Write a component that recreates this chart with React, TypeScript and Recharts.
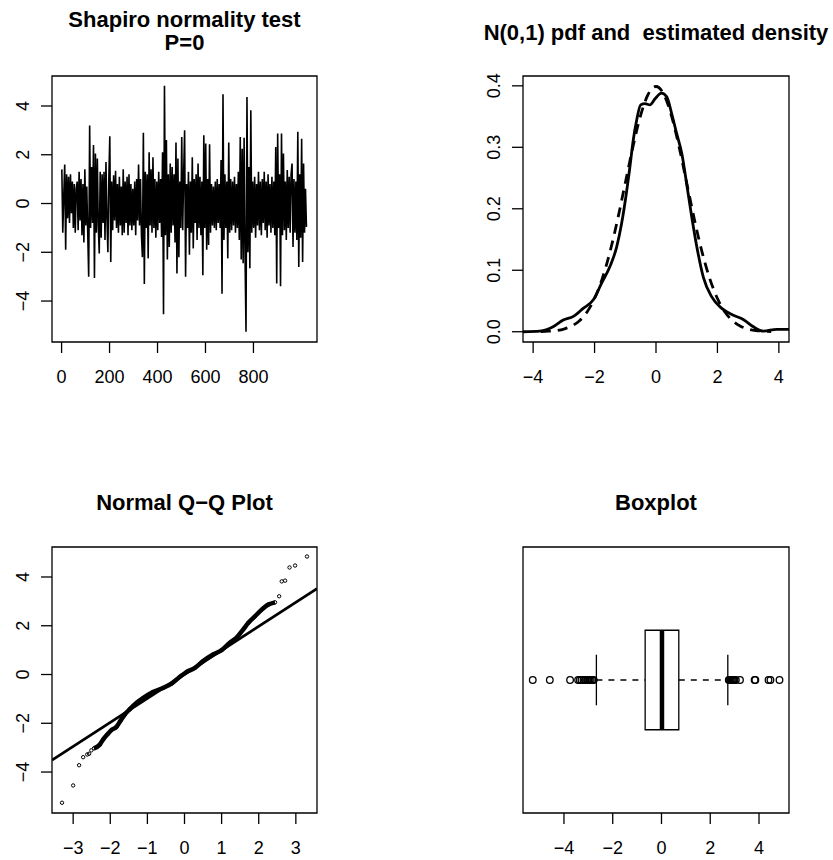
import React from 'react';
import { LineChart, ComposedChart, Line, Scatter, XAxis, YAxis, ReferenceArea, ReferenceLine } from 'recharts';

// ---------------- data ----------------
// Time series (one value read per 4 observations)
const tsStep = 4;
const tsValues = [
  1.4, -1.2, 0.3, 1.6, -1.9, 1.2, -0.6, 1.1, -0.8, 1.2, -0.4, 0.9, -1.0, 0.8, -1.2, 0.6,
  0.9, -1.1, 1.3, -0.7, 1.0, -1.3, 0.8, -1.6, 1.4, -0.9, 0.7, -1.2, -3.0, 3.2, -1.0, 1.5,
  -0.8, 2.4, -3.05, 2.05, -1.2, 1.85, -0.9, -2.05, 1.3, -1.4, 1.2, -0.8, 1.3, -1.5, 1.7, -0.6,
  -2.0, 1.0, 2.76, -2.4, 0.9, -1.1, 1.16, -0.7, 1.34, -1.0, 0.8, -1.2, 1.1, -0.9, 0.7, -1.3,
  1.4, -1.2, 0.9, -0.8, 1.1, -1.3, 1.2, -0.9, 0.8, -1.1, 0.6, -0.9, 0.9, -1.3, 1.0, -0.7,
  1.6, -0.9, 1.0, -1.3, -2.2, 2.9, -3.3, 1.3, -1.0, 1.2, -2.25, 2.1, -0.9, 1.4, -1.2, 1.9,
  -1.0, 1.0, -1.4, 0.9, -1.1, 1.3, -0.8, 1.0, -1.37, 2.1, -4.54, 4.83, -1.3, 2.6, -2.3, 1.2,
  -1.78, 1.64, -1.2, 1.5, -0.9, 1.2, -1.6, 2.5, -2.87, 1.85, -2.2, 0.9, -1.0, 2.73, -1.1, 1.2,
  3.0, -3.0, 0.8, -1.0, 1.3, -2.1, 0.9, -1.2, 1.9, -1.84, 1.0, -0.8, 1.2, -1.5, 1.64, -1.0,
  1.1, -1.3, 0.9, -2.94, 2.8, -1.0, 2.46, -1.9, 1.0, -1.7, 2.43, -1.2, 0.8, -0.9, 0.7, -1.0,
  0.9, -1.1, 1.0, -0.8, 0.8, -1.0, 1.78, -3.7, 4.48, -1.5, 1.2, -1.0, 0.9, -2.25, 2.5, -1.2,
  1.0, -1.1, 0.9, -0.9, 1.1, -1.2, 0.8, -1.0, 1.3, -1.5, 2.73, -2.3, 2.25, -2.45, 2.7, -2.2,
  -5.26, 4.37, -2.0, 1.5, -2.66, 3.82, -1.2, 0.9, -1.0, 1.1, -1.4, 0.8, -0.9, 1.3, -1.1, 0.9,
  -1.3, 1.0, -0.8, 1.3, -1.1, 0.9, -1.4, 1.2, -0.9, 0.8, -1.2, 1.1, -1.0, 0.9, -1.3, 2.32,
  -3.28, 2.87, -1.0, 1.2, -3.39, 2.87, -1.3, 2.05, -1.1, 0.9, -1.5, 1.37, -1.0, 1.1, -1.2, 1.2,
  1.64, -1.78, 1.0, -1.2, 0.9, -1.5, 2.94, -2.6, 1.2, -1.4, 2.66, -2.4, 1.64, -1.2, 0.6, -0.96,
];
const tsXTicks = [0, 200, 400, 600, 800];
const tsYTicks = [-4, -2, 0, 2, 4];

// Estimated density (solid)
const densX = [-4.33, -3.78, -3.35, -3.02, -2.69, -2.37, -2.04, -1.77, -1.5, -1.28, -1.12, -0.98, -0.85, -0.74, -0.63, -0.5, -0.36, -0.2, -0.03, 0.18, 0.35, 0.51, 0.67, 0.84, 1.0, 1.16, 1.33, 1.54, 1.81, 2.14, 2.52, 2.84, 3.17, 3.5, 3.93, 4.33];
const densY = [0.0, 0.001, 0.008, 0.019, 0.025, 0.038, 0.052, 0.079, 0.106, 0.138, 0.176, 0.22, 0.268, 0.312, 0.344, 0.369, 0.371, 0.369, 0.379, 0.388, 0.382, 0.355, 0.323, 0.29, 0.24, 0.188, 0.138, 0.089, 0.057, 0.038, 0.027, 0.02, 0.008, 0.001, 0.004, 0.004];
// N(0,1) pdf (dashed)
const pdfX = [-3.75, -3.5, -3.25, -3.0, -2.75, -2.5, -2.25, -2.0, -1.75, -1.5, -1.25, -1.0, -0.75, -0.5, -0.25, 0, 0.25, 0.5, 0.75, 1.0, 1.25, 1.5, 1.75, 2.0, 2.25, 2.5, 2.75, 3.0, 3.25, 3.5, 3.75];
const pdfY = [0.0004, 0.0009, 0.002, 0.0044, 0.0091, 0.0175, 0.0317, 0.054, 0.0863, 0.1295, 0.1826, 0.242, 0.3011, 0.3521, 0.3867, 0.3989, 0.3867, 0.3521, 0.3011, 0.242, 0.1826, 0.1295, 0.0863, 0.054, 0.0317, 0.0175, 0.0091, 0.0044, 0.002, 0.0009, 0.0004];
const densXTicks = [-4, -2, 0, 2, 4];
const densYTicks = [0, 0.1, 0.2, 0.3, 0.4];

// Q-Q plot
const qqTailTheo = [-3.3, -3.0, -2.84, -2.73, -2.62, -2.57, -2.51, 2.55, 2.62, 2.71, 2.83, 2.98, 3.3];
const qqTailSample = [-5.26, -4.55, -3.72, -3.39, -3.28, -3.25, -3.11, 3.21, 3.82, 3.85, 4.39, 4.47, 4.84];
const qqCoreTheo = [-2.44, -2.28, -2.19, -2.08, -1.97, -1.83, -1.73, -1.61, -1.48, -1.29, -1.11, -0.85, -0.58, -0.35, -0.13, 0.05, 0.28, 0.5, 0.77, 1.0, 1.22, 1.42, 1.58, 1.72, 1.9, 2.08, 2.26, 2.44];
const qqCoreSample = [-3.03, -2.87, -2.66, -2.46, -2.28, -2.14, -1.91, -1.64, -1.43, -1.16, -0.96, -0.72, -0.55, -0.37, -0.1, 0.1, 0.27, 0.55, 0.82, 1.0, 1.3, 1.54, 1.84, 2.12, 2.39, 2.66, 2.87, 2.96];
const qqLineX = [-3.57, 3.57];
const qqLineY = [-3.51, 3.52];
const qqXTicks = [-3, -2, -1, 0, 1, 2, 3];

// Boxplot
const boxFive = [-2.67, -0.67, 0.02, 0.71, 2.72]; // lower whisker, Q1, median, Q3, upper whisker
const boxOutliers = [-5.28, -4.58, -3.75, -3.42, -3.35, -3.28, -3.2, -3.12, -3.05, -3.0, -2.95, -2.9, -2.84, -2.78,
  2.76, 2.8, 2.84, 2.88, 2.92, 2.96, 3.0, 3.05, 3.22, 3.82, 3.85, 4.39, 4.47, 4.84];
const boxXTicks = [-4, -2, 0, 2, 4];

// ---------------- layout ----------------
const W = 833, H = 860;
const FONT = '"Liberation Sans", Arial, Helvetica, sans-serif';
const YW = 30, XH = 30;
const TICK = 11;
const LW = 1.3;

type Rect = { x: number; y: number; w: number; h: number };
type PlotBox = { l: number; t: number; r: number; b: number };

const C_TL: Rect = { x: 0, y: 0, w: 416, h: 430 };
const C_TR: Rect = { x: 416, y: 0, w: 417, h: 430 };
const C_BL: Rect = { x: 0, y: 430, w: 416, h: 430 };
const C_BR: Rect = { x: 416, y: 430, w: 417, h: 430 };
const P_TL: PlotBox = { l: 52, t: 76, r: 317, b: 342 };
const P_TR: PlotBox = { l: 523, t: 76, r: 789, b: 342 };
const P_BL: PlotBox = { l: 52, t: 547, r: 317, b: 813 };
const P_BR: PlotBox = { l: 523, t: 547, r: 789, b: 813 };

function marginFor(c: Rect, p: PlotBox, withY = true) {
  return { top: p.t - c.y, left: p.l - c.x - (withY ? YW : 0), right: c.x + c.w - p.r, bottom: c.y + c.h - p.b - XH };
}

const fmtInt = (v: number) => (v < 0 ? '\u2212' + Math.abs(v) : String(v));
const fmt1 = (v: number) => v.toFixed(1);

const makeXTick = (f: (v: number) => string) => (props: any) => {
  const { x, y, payload } = props;
  return (
    <text x={x} y={y + 27.5} textAnchor="middle" fontSize={18} fontFamily={FONT} fill="#000">
      {f(payload.value)}
    </text>
  );
};
const makeYTick = (f: (v: number) => string) => (props: any) => {
  const { x, y, payload } = props;
  const bx = x - 10;
  return (
    <text x={bx} y={y} transform={`rotate(-90 ${bx} ${y})`} textAnchor="middle" fontSize={18} fontFamily={FONT} fill="#000">
      {f(payload.value)}
    </text>
  );
};

const axisCommon = {
  type: 'number' as const,
  allowDataOverflow: true,
  axisLine: false,
  tickSize: TICK,
  tickLine: { stroke: '#000', strokeWidth: LW },
  stroke: '#000',
  interval: 0 as const,
};

const QQDot = (p: any) => <circle cx={p.cx} cy={p.cy} r={1.7} fill="none" stroke="#000" strokeWidth={1} />;
const OutDot = (p: any) => <circle cx={p.cx} cy={p.cy} r={3.3} fill="none" stroke="#000" strokeWidth={LW} />;

const abs = (c: Rect): React.CSSProperties => ({ position: 'absolute', left: c.x, top: c.y });

export default function App() {
  const tsData = tsValues.map((v, k) => ({ i: 1 + k * tsStep, v }));
  const densData = densX.map((x, k) => ({ x, y: densY[k] }));
  const pdfData = pdfX.map((x, k) => ({ x, y: pdfY[k] }));
  const qqTail = qqTailTheo.map((x, k) => ({ x, y: qqTailSample[k] }));
  const qqCore = qqCoreTheo.map((x, k) => ({ x, y: qqCoreSample[k] }));
  const qqLine = qqLineX.map((x, k) => ({ x, y: qqLineY[k] }));
  const outData = boxOutliers.map((x) => ({ x, y: 1 }));

  const tsXDom: [number, number] = [-40, 1065];
  const valDom: [number, number] = [-5.68, 5.23];
  const dXDom: [number, number] = [-4.33, 4.33];
  const dYDom: [number, number] = [-0.0167, 0.416];
  const qXDom: [number, number] = [-3.57, 3.57];
  const bYDom: [number, number] = [0.5, 1.5];
  const BOX_HALF = 0.187;
  const CAP_HALF = 0.095;
  const [wLo, q1, med, q3, wHi] = boxFive;

  const titleStyle = { fontSize: 22, fontWeight: 700, fontFamily: FONT, fill: '#000' } as const;

  return (
    <div style={{ position: 'absolute', left: 0, top: 0, width: W, height: H, background: '#fff' }}>
      {/* Top-left: time series */}
      <div style={abs(C_TL)}>
        <LineChart width={C_TL.w} height={C_TL.h} data={tsData} margin={marginFor(C_TL, P_TL)}>
          <XAxis {...axisCommon} dataKey="i" domain={tsXDom} ticks={tsXTicks} height={XH} tick={makeXTick(fmtInt)} />
          <YAxis {...axisCommon} domain={valDom} ticks={tsYTicks} width={YW} tick={makeYTick(fmtInt)} />
          <ReferenceArea x1={tsXDom[0]} x2={tsXDom[1]} y1={valDom[0]} y2={valDom[1]} ifOverflow="visible" fill="none" stroke="#000" strokeWidth={LW} />
          <Line dataKey="v" stroke="#000" strokeWidth={1.6} dot={false} isAnimationActive={false} />
        </LineChart>
      </div>

      {/* Top-right: densities */}
      <div style={abs(C_TR)}>
        <ComposedChart width={C_TR.w} height={C_TR.h} margin={marginFor(C_TR, P_TR)}>
          <XAxis {...axisCommon} dataKey="x" domain={dXDom} ticks={densXTicks} height={XH} tick={makeXTick(fmtInt)} />
          <YAxis {...axisCommon} dataKey="y" domain={dYDom} ticks={densYTicks} width={YW} tick={makeYTick(fmt1)} />
          <ReferenceArea x1={dXDom[0]} x2={dXDom[1]} y1={dYDom[0]} y2={dYDom[1]} ifOverflow="visible" fill="none" stroke="#000" strokeWidth={LW} />
          <Line data={pdfData} dataKey="y" type="monotone" stroke="#000" strokeWidth={2.8} strokeDasharray="10 7" dot={false} isAnimationActive={false} />
          <Line data={densData} dataKey="y" type="monotone" stroke="#000" strokeWidth={2.8} dot={false} isAnimationActive={false} />
        </ComposedChart>
      </div>

      {/* Bottom-left: QQ plot */}
      <div style={abs(C_BL)}>
        <ComposedChart width={C_BL.w} height={C_BL.h} margin={marginFor(C_BL, P_BL)}>
          <XAxis {...axisCommon} dataKey="x" domain={qXDom} ticks={qqXTicks} height={XH} tick={makeXTick(fmtInt)} />
          <YAxis {...axisCommon} dataKey="y" domain={valDom} ticks={tsYTicks} width={YW} tick={makeYTick(fmtInt)} />
          <ReferenceArea x1={qXDom[0]} x2={qXDom[1]} y1={valDom[0]} y2={valDom[1]} ifOverflow="visible" fill="none" stroke="#000" strokeWidth={LW} />
          <Line data={qqLine} dataKey="y" stroke="#000" strokeWidth={2.8} dot={false} isAnimationActive={false} />
          <Line data={qqCore} dataKey="y" type="monotone" stroke="#000" strokeWidth={4.5} dot={false} isAnimationActive={false} />
          <Scatter data={qqCore} dataKey="y" shape={QQDot} isAnimationActive={false} />
          <Scatter data={qqTail} dataKey="y" shape={QQDot} isAnimationActive={false} />
        </ComposedChart>
      </div>

      {/* Bottom-right: boxplot */}
      <div style={abs(C_BR)}>
        <ComposedChart width={C_BR.w} height={C_BR.h} margin={marginFor(C_BR, P_BR, false)}>
          <XAxis {...axisCommon} dataKey="x" domain={valDom} ticks={boxXTicks} height={XH} tick={makeXTick(fmtInt)} />
          <YAxis type="number" dataKey="y" domain={bYDom} hide allowDataOverflow />
          <ReferenceArea x1={valDom[0]} x2={valDom[1]} y1={bYDom[0]} y2={bYDom[1]} ifOverflow="visible" fill="none" stroke="#000" strokeWidth={LW} />
          <ReferenceLine segment={[{ x: wLo, y: 1 }, { x: q1, y: 1 }]} stroke="#000" strokeWidth={LW} strokeDasharray="6 6" />
          <ReferenceLine segment={[{ x: q3, y: 1 }, { x: wHi, y: 1 }]} stroke="#000" strokeWidth={LW} strokeDasharray="6 6" />
          <ReferenceLine segment={[{ x: wLo, y: 1 - CAP_HALF }, { x: wLo, y: 1 + CAP_HALF }]} stroke="#000" strokeWidth={LW} />
          <ReferenceLine segment={[{ x: wHi, y: 1 - CAP_HALF }, { x: wHi, y: 1 + CAP_HALF }]} stroke="#000" strokeWidth={LW} />
          <ReferenceArea x1={q1} x2={q3} y1={1 - BOX_HALF} y2={1 + BOX_HALF} fill="#fff" fillOpacity={1} stroke="#000" strokeWidth={LW} />
          <ReferenceLine segment={[{ x: med, y: 1 - BOX_HALF }, { x: med, y: 1 + BOX_HALF }]} stroke="#000" strokeWidth={4.5} />
          <Scatter data={outData} dataKey="y" shape={OutDot} isAnimationActive={false} />
        </ComposedChart>
      </div>

      {/* Titles */}
      <svg width={W} height={H} style={{ position: 'absolute', left: 0, top: 0, pointerEvents: 'none' }}>
        <text x={(P_TL.l + P_TL.r) / 2} y={26.5} textAnchor="middle" {...titleStyle}>Shapiro normality test</text>
        <text x={(P_TL.l + P_TL.r) / 2} y={50} textAnchor="middle" {...titleStyle}>P=0</text>
        <text x={(P_TR.l + P_TR.r) / 2} y={39.5} textAnchor="middle" style={{ whiteSpace: 'pre' }} {...titleStyle}>N(0,1) pdf and  estimated density</text>
        <text x={(P_BL.l + P_BL.r) / 2} y={510} textAnchor="middle" {...titleStyle}>Normal Q{'\u2212'}Q Plot</text>
        <text x={(P_BR.l + P_BR.r) / 2} y={510} textAnchor="middle" {...titleStyle}>Boxplot</text>
      </svg>
    </div>
  );
}
